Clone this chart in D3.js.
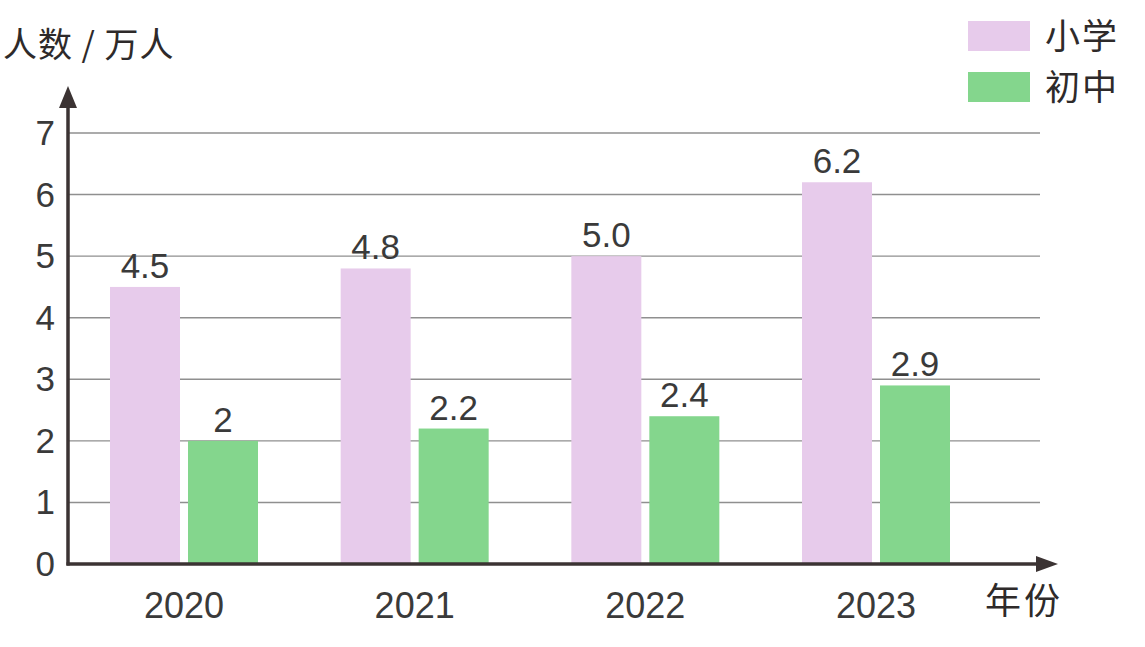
<!DOCTYPE html>
<html>
<head>
<meta charset="utf-8">
<script src="https://cdn.jsdelivr.net/npm/d3@7"></script>
<style>
  body { margin: 0; background: #fff; }
  svg { display: block; }
</style>
</head>
<body>
<script>
// data
var years = ["2020", "2021", "2022", "2023"];
var seriesNames = ["小学", "初中"];
var primary = [4.5, 4.8, 5.0, 6.2];
var junior = [2, 2.2, 2.4, 2.9];
var valueLabels = [["4.5", "4.8", "5.0", "6.2"], ["2", "2.2", "2.4", "2.9"]];
var yTicks = [0, 1, 2, 3, 4, 5, 6, 7];

function init() {
    var w = 1145;
    var h = 647;
    var axisColor = "#3b3333";
    var textColor = "#3a3a3a";
    var colors = ["#e7cbeb", "#84d68d"];
    var numFont = "'Liberation Sans', Arial, sans-serif";
    var cjkFont = "'Noto Sans CJK SC', sans-serif";

    var svg = d3.select("body")
        .append("svg")
        .attr("width", w)
        .attr("height", h);

    var x0 = d3.scaleBand()
        .domain(years)
        .range([110, 950])
        .paddingInner(0.3584)
        .paddingOuter(0);

    var x1 = d3.scaleBand()
        .domain(seriesNames)
        .range([0, x0.bandwidth()])
        .paddingInner(0.1026);

    var y = d3.scaleLinear()
        .domain([0, 7])
        .range([564, 133]);

    var axisLeftX = 68;

    //gridlines
    svg.append("g")
        .selectAll("line")
        .data(yTicks.filter(function (d) { return d > 0; }))
        .enter()
        .append("line")
        .attr("x1", axisLeftX)
        .attr("x2", 1040)
        .attr("y1", function (d) { return y(d); })
        .attr("y2", function (d) { return y(d); })
        .attr("stroke", "#8f8f8f")
        .attr("stroke-width", 1.4);

    //bars
    var table = years.map(function (yr, i) {
        return { year: yr, values: [primary[i], junior[i]], labels: [valueLabels[0][i], valueLabels[1][i]] };
    });

    var groups = svg.selectAll("g.year")
        .data(table)
        .enter()
        .append("g")
        .attr("class", "year")
        .attr("transform", function (d) { return "translate(" + x0(d.year) + ",0)"; });

    var cells = groups.selectAll("g.bar")
        .data(function (d) {
            return seriesNames.map(function (s, j) {
                return { series: s, value: d.values[j], label: d.labels[j], j: j };
            });
        })
        .enter()
        .append("g")
        .attr("class", "bar");

    cells.append("rect")
        .attr("x", function (d) { return x1(d.series); })
        .attr("width", x1.bandwidth())
        .attr("y", function (d) { return y(d.value); })
        .attr("height", function (d) { return y(0) - y(d.value); })
        .attr("fill", function (d) { return colors[d.j]; });

    cells.append("text")
        .attr("x", function (d) { return x1(d.series) + x1.bandwidth() / 2; })
        .attr("y", function (d) { return y(d.value) - 9; })
        .attr("text-anchor", "middle")
        .attr("font-family", numFont)
        .attr("font-size", 35)
        .attr("fill", textColor)
        .text(function (d) { return d.label; });

    //year labels
    svg.append("g")
        .selectAll("text")
        .data(years)
        .enter()
        .append("text")
        .attr("x", function (d) { return x0(d) + x0.bandwidth() / 2; })
        .attr("y", 618)
        .attr("text-anchor", "middle")
        .attr("font-family", numFont)
        .attr("font-size", 36)
        .attr("fill", textColor)
        .text(function (d) { return d; });

    //y tick labels
    svg.append("g")
        .selectAll("text")
        .data(yTicks)
        .enter()
        .append("text")
        .attr("x", 55)
        .attr("y", function (d) { return y(d) + 12; })
        .attr("text-anchor", "end")
        .attr("font-family", numFont)
        .attr("font-size", 35)
        .attr("fill", textColor)
        .text(function (d) { return d; });

    //axes with arrows
    svg.append("line")
        .attr("x1", axisLeftX).attr("x2", axisLeftX)
        .attr("y1", y(0) + 1.5).attr("y2", 104)
        .attr("stroke", axisColor).attr("stroke-width", 3.5);
    svg.append("path")
        .attr("d", "M" + axisLeftX + ",86 L" + (axisLeftX - 9) + ",108 L" + (axisLeftX + 9) + ",108 Z")
        .attr("fill", axisColor);

    svg.append("line")
        .attr("x1", axisLeftX - 1.5).attr("x2", 1040)
        .attr("y1", y(0)).attr("y2", y(0))
        .attr("stroke", axisColor).attr("stroke-width", 3.5);
    svg.append("path")
        .attr("d", "M1058," + y(0) + " L1036," + (y(0) - 8) + " L1036," + (y(0) + 8) + " Z")
        .attr("fill", axisColor);

    //axis titles
    svg.append("text")
        .attr("x", 3)
        .attr("y", 57)
        .attr("font-family", cjkFont)
        .attr("font-size", 34)
        .attr("letter-spacing", 1)
        .attr("fill", "#2e2a2a")
        .text("人数 / 万人");

    svg.append("text")
        .attr("x", 985)
        .attr("y", 614)
        .attr("font-family", cjkFont)
        .attr("font-size", 36)
        .attr("letter-spacing", 3)
        .attr("fill", "#2e2a2a")
        .text("年份");

    //legend
    var legend = svg.selectAll("g.legend")
        .data(seriesNames)
        .enter()
        .append("g")
        .attr("class", "legend")
        .attr("transform", function (d, i) { return "translate(968," + (21 + i * 51) + ")"; });

    legend.append("rect")
        .attr("width", 62)
        .attr("height", 30)
        .attr("fill", function (d, i) { return colors[i]; });

    legend.append("text")
        .attr("x", 77)
        .attr("y", 28)
        .attr("font-family", cjkFont)
        .attr("font-size", 35)
        .attr("letter-spacing", 2)
        .attr("fill", "#2e2a2a")
        .text(function (d) { return d; });
}
window.onload = init;
</script>
</body>
</html>
